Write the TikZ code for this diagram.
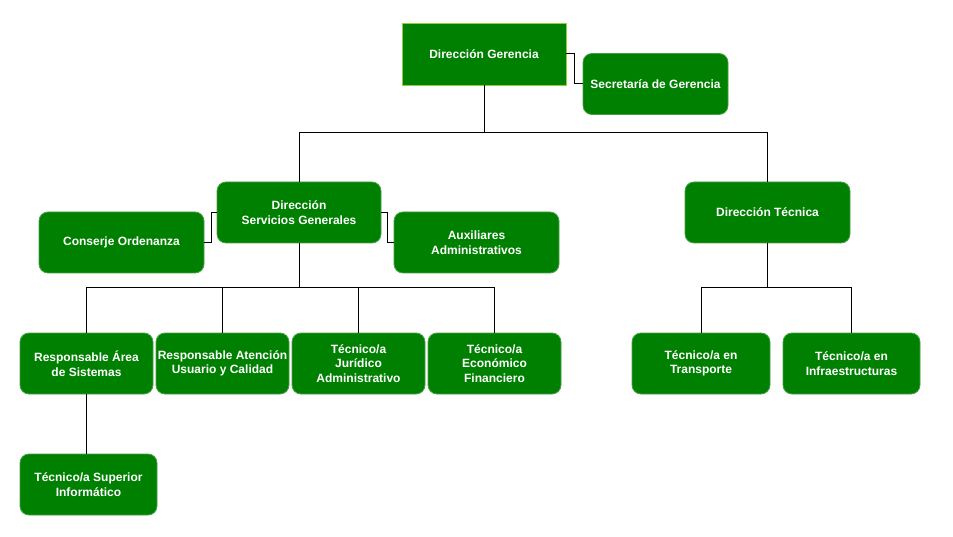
\documentclass[tikz,border=0pt]{standalone}
\usepackage{fontspec}
\setmainfont{Liberation Sans}
\definecolor{boxgreen}{RGB}{0,128,0}
\definecolor{edgegreen}{RGB}{70,160,70}
\definecolor{topedge}{RGB}{150,205,60}
\begin{document}
\begin{tikzpicture}[x=1pt,y=-1pt,
  orgbox/.style={fill=boxgreen,draw=edgegreen,line width=0.8pt,rounded corners=9pt,
    text=white,font=\fontsize{12}{14.5}\selectfont\bfseries,align=center,inner sep=0pt},
  topbox/.style={orgbox,rounded corners=0pt,draw=topedge},
  link/.style={draw=black,line width=1pt}]
\useasboundingbox (0,0) rectangle (953,537);
\fill[white] (0,0) rectangle (953,537);
\node[topbox,minimum width=164pt,minimum height=62pt] (dg) at (484,54) {Dirección Gerencia};
\node[orgbox,minimum width=145pt,minimum height=61pt] (sec) at (655.5,84) {Secretaría de Gerencia};
\node[orgbox,minimum width=164pt,minimum height=61pt] (dsg) at (299,212.5) {Dirección\\Servicios Generales};
\node[orgbox,minimum width=165pt,minimum height=61pt] (con) at (121.5,242.5) {Conserje Ordenanza};
\node[orgbox,minimum width=165pt,minimum height=61pt] (aux) at (476.5,242.5) {Auxiliares\\Administrativos};
\node[orgbox,minimum width=165pt,minimum height=61pt] (dt) at (767.5,212.5) {Dirección Técnica};
\node[orgbox,minimum width=133pt,minimum height=61pt] (ras) at (86.5,363.5) {Responsable Área\\de Sistemas};
\node[orgbox,minimum width=133pt,minimum height=61pt] (rau) at (222.5,363.5) {Responsable Atención\\Usuario y Calidad};
\node[orgbox,minimum width=133pt,minimum height=61pt] (tja) at (358.5,363.5) {Técnico/a\\Jurídico\\Administrativo};
\node[orgbox,minimum width=133pt,minimum height=61pt] (tef) at (494.5,363.5) {Técnico/a\\Económico\\Financiero};
\node[orgbox,minimum width=137pt,minimum height=61pt] (tsi) at (88.5,484.5) {Técnico/a Superior\\Informático};
\node[orgbox,minimum width=138pt,minimum height=61pt] (ttr) at (701,363.5) {Técnico/a en\\Transporte};
\node[orgbox,minimum width=137pt,minimum height=61pt] (tin) at (851.5,363.5) {Técnico/a en\\Infraestructuras};
% connectors
\coordinate (b1) at (0,133);
\coordinate (b2) at (0,288);
\draw[link] (dg.east) -| (574,84) -- (sec.west);
\draw[link] (dg.south) -- (dg.south |- b1) -| (dsg.north);
\draw[link] (dg.south |- b1) -| (dt.north);
\draw[link] (dsg.west) -| (211,242.5) -- (con.east);
\draw[link] (dsg.east) -| (387.5,242.5) -- (aux.west);
\draw[link] (dsg.south) -- (dsg.south |- b2) -| (ras.north);
\draw[link] (dsg.south |- b2) -| (rau.north);
\draw[link] (dsg.south |- b2) -| (tja.north);
\draw[link] (dsg.south |- b2) -| (tef.north);
\draw[link] (ras.south) -- (ras.south |- tsi.north);
\draw[link] (dt.south) -- (dt.south |- b2) -| (ttr.north);
\draw[link] (dt.south |- b2) -| (tin.north);
\end{tikzpicture}
\end{document}
